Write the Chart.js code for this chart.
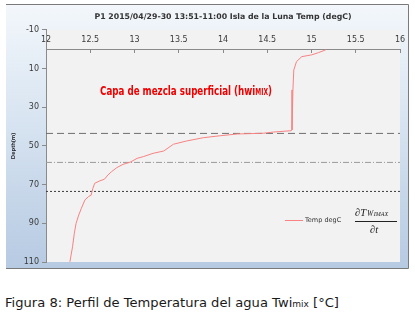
<!DOCTYPE html>
<html><head><meta charset="utf-8">
<script src="https://cdn.jsdelivr.net/npm/chart.js@4.4.0/dist/chart.umd.min.js"></script>
<style>
html,body{margin:0;padding:0;background:#fff;width:415px;height:324px;overflow:hidden;}
#wrap{position:absolute;left:0;top:0;width:415px;height:275px;}
#cap{position:absolute;left:5px;top:295px;font-family:"DejaVu Sans",sans-serif;font-size:13.1px;color:#1a1a1a;white-space:nowrap;line-height:15px;}
#cap .s{font-size:9px;}
</style></head><body>
<div id="wrap"><canvas id="c" width="415" height="275"></canvas></div>
<div id="cap">Figura 8: Perfil de Temperatura del agua Twi<span class="s">mix</span> [°C]</div>
<script>
// ---- data ----
const tempDegC = [15.16,15.08,15.00,14.89,14.83,14.80,14.79,14.78,14.77,14.57,14.46,14.16,13.97,13.78,13.59,13.44,13.33,13.21,13.10,13.03,12.95,12.87,12.80,12.74,12.70,12.66,12.61,12.55,12.53,12.51,12.48,12.44,12.40,12.37,12.34,12.32,12.30,12.27];
const depthM   = [0.3,1.7,2.9,3.8,6.4,10.7,21.0,41.7,42.1,42.8,43.4,43.8,44.7,45.7,47.4,49.1,52.6,53.8,55.5,56.4,58.4,59.5,61.2,63.3,65.0,67.2,68.0,69.3,71.9,75.4,76.2,77.9,82.2,85.7,90.0,95.2,102.1,109.9];
const refLineDepths = [43.5, 58.5, 73.5];
const tempRange = [12, 16];
const depthRange = [-10, 110];
const xTickValues = [12, 12.5, 13, 13.5, 14, 14.5, 15, 15.5, 16];
const yTickValues = [-10, 10, 30, 50, 70, 90, 110];
const seriesLabel = 'Temp degC';
const chartTitle = 'P1 2015/04/29-30 13:51-11:00 Isla de la Luna Temp (degC)';
const annotationText = ['Capa de mezcla superficial (hwi', 'MIX', ')'];
const annotationPos = {t: 12.61, d: 21.4};

const refStyles = [
  {color:'#6e6e6e', dash:[7,4]},
  {color:'#9a9a9a', dash:[6,2,1,2]},
  {color:'#3c3c3c', dash:[2,2]}
];

const datasets = [{
  label: seriesLabel,
  data: tempDegC.map((t,i)=>({x:t, y:depthM[i]})),
  showLine: true, pointRadius: 0, borderColor: '#f98282', borderWidth: 1, tension: 0
}];
refLineDepths.forEach((d,i)=>{
  datasets.push({
    label: 'ref'+i,
    data: tempRange.map(t=>({x:t, y:d})),
    showLine: true, pointRadius: 0, borderColor: refStyles[i].color, borderWidth: 1,
    borderDash: refStyles[i].dash
  });
});

const bgPlugin = {
  id: 'bg',
  beforeDraw(chart){
    const {ctx, chartArea:a} = chart;
    ctx.save();
    const g = ctx.createLinearGradient(0,5,0,268);
    g.addColorStop(0,'#f3f7fb'); g.addColorStop(0.35,'#dde8f3'); g.addColorStop(1,'#b6cae2');
    ctx.fillStyle = g; ctx.fillRect(6,5,402,263);
    ctx.strokeStyle = '#7a7a7a'; ctx.lineWidth = 1;
    ctx.beginPath(); ctx.moveTo(6,4.5); ctx.lineTo(408.5,4.5); ctx.lineTo(408.5,268.5); ctx.lineTo(6,268.5); ctx.stroke();
    ctx.fillStyle = '#f2f2f2'; ctx.fillRect(a.left, a.top, a.right-a.left, a.bottom-a.top);
    ctx.restore();
  }
};

const annotPlugin = {
  id: 'annot',
  afterDraw(chart){
    const {ctx, chartArea:a, scales:{x,y}} = chart;
    ctx.save();
    const px = x.getPixelForValue(annotationPos.t), py = y.getPixelForValue(annotationPos.d);
    const big = 'bold 12.5px "Liberation Sans Narrow","DejaVu Sans Condensed","Liberation Sans",sans-serif';
    const small = 'bold 8.5px "Liberation Sans Narrow","DejaVu Sans Condensed","Liberation Sans",sans-serif';
    ctx.font = big; const w0 = ctx.measureText(annotationText[0]).width;
    const w2 = ctx.measureText(annotationText[2]).width;
    ctx.font = small; const w1 = ctx.measureText(annotationText[1]).width;
    const sx = 172/(w0+w1+w2);
    ctx.translate(px, py); ctx.scale(sx,1);
    ctx.fillStyle = '#f00000'; ctx.textBaseline = 'alphabetic'; ctx.textAlign = 'left';
    ctx.font = big; ctx.fillText(annotationText[0], 0, 4.5);
    ctx.font = small; ctx.fillText(annotationText[1], w0, 4.5);
    ctx.font = big; ctx.fillText(annotationText[2], w0+w1, 4.5);
    ctx.restore();

    // legend
    ctx.save();
    const ly = a.bottom - 42, lx = a.right - 115;
    ctx.strokeStyle = datasets[0].borderColor; ctx.lineWidth = 1;
    ctx.beginPath(); ctx.moveTo(lx, ly+0.5); ctx.lineTo(lx+18, ly+0.5); ctx.stroke();
    ctx.fillStyle = '#333'; ctx.font = '6.5px "DejaVu Sans",sans-serif'; ctx.textBaseline = 'middle';
    ctx.fillText(seriesLabel, lx+20, ly+0.5);
    // formula
    const fx = a.right - 45;
    ctx.fillStyle = '#222'; ctx.textBaseline = 'alphabetic';
    ctx.font = 'italic 10.5px "Liberation Serif","DejaVu Serif",serif';
    ctx.fillText('\u2202T', fx, ly-4);
    const wT = ctx.measureText('\u2202T').width;
    ctx.font = 'italic 7.5px "Liberation Serif","DejaVu Serif",serif';
    ctx.fillText('W', fx+wT+1, ly-4);
    const wW = ctx.measureText('W').width;
    ctx.font = 'italic 6px "Liberation Serif","DejaVu Serif",serif';
    ctx.fillText('IMAX', fx+wT+1+wW+0.5, ly-4);
    ctx.strokeStyle = '#222';
    ctx.beginPath(); ctx.moveTo(fx, ly+1.5); ctx.lineTo(fx+42, ly+1.5); ctx.stroke();
    ctx.font = 'italic 10.5px "Liberation Serif","DejaVu Serif",serif';
    ctx.fillText('\u2202t', fx+15, ly+13);
    ctx.restore();
  }
};

new Chart(document.getElementById('c'), {
  type: 'scatter',
  data: {datasets},
  plugins: [bgPlugin, annotPlugin],
  options: {
    responsive: false, animation: false,
    layout: {padding: {left: 6, right: 15, top: 0, bottom: 13}},
    plugins: {
      legend: {display: false}, tooltip: {enabled: false},
      title: {display: true, text: chartTitle, fullSize: false, color: '#333',
        font: {family: 'DejaVu Sans', size: 7.8, weight: 'bold'}, padding: {top: 12.3, bottom: 8.3}}
    },
    scales: {
      x: {
        type: 'linear', axis: 'x', position: {y: 0}, min: tempRange[0], max: tempRange[1],
        afterBuildTicks: s => { s.ticks = xTickValues.map(v=>({value:v})); },
        ticks: {padding: -17, color: '#3a3a3a', font: {family: 'DejaVu Sans', size: 8}, autoSkip: false, maxRotation: 0,
          callback: v => String(Math.round(v*10)/10)},
        grid: {drawOnChartArea: false, drawTicks: true, tickLength: 3, color: '#8a8a8a'},
        border: {color: '#8a8a8a'}
      },
      y: {
        type: 'linear', reverse: true, min: depthRange[0], max: depthRange[1],
        afterBuildTicks: s => { s.ticks = yTickValues.map(v=>({value:v})); },
        afterFit: s => { s.width = 40; },
        ticks: {padding: 3, color: '#3a3a3a', font: {family: 'DejaVu Sans', size: 8}},
        grid: {drawOnChartArea: false, drawTicks: true, tickLength: 4, color: '#8a8a8a'},
        border: {color: '#8a8a8a'},
        title: {display: true, text: 'Depth(m)', color: '#222',
          font: {family: '"Liberation Sans Narrow","Liberation Sans",sans-serif', size: 6, weight: 'bold'}, padding: {top: 4, bottom: 0}}
      }
    }
  }
});
</script>
</body></html>
